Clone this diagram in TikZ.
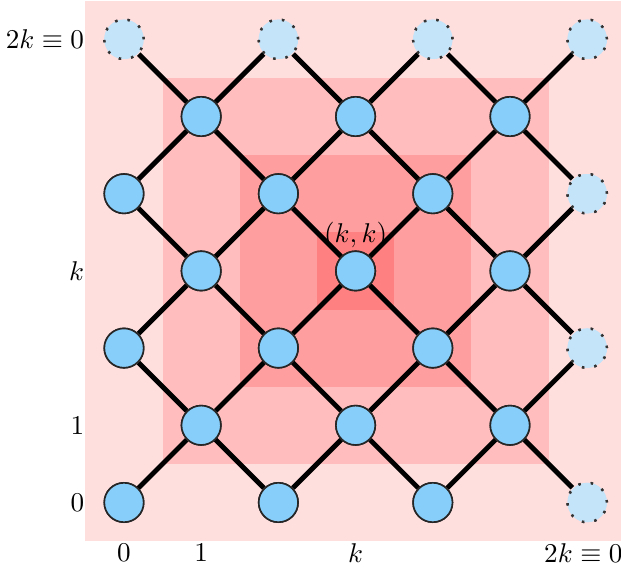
\documentclass[tikz,border=0pt]{standalone}
\usepackage{amssymb}
\definecolor{nodeblue}{RGB}{135,206,250}
\definecolor{ghostblue}{RGB}{196,228,250}
\tikzset{
  vtx/.style={circle,draw=black!85,line width=0.6pt,fill=nodeblue,minimum size=0.51cm,inner sep=0pt},
  ghost/.style={circle,draw=black!80,line width=0.9pt,dash pattern=on 0.9pt off 3.7pt,fill=ghostblue,minimum size=0.51cm,inner sep=0pt},
  edge/.style={line width=1.8pt,black},
  axlab/.style={inner sep=0pt}
}
\begin{document}
\begin{tikzpicture}
\useasboundingbox (-1.606,-0.835) rectangle (6.438,6.509);
% background and nested squares
\fill[red!13] (-0.5,-0.5) rectangle (6.5,6.5);
\fill[red!26] (0.5,0.5) rectangle (5.5,5.5);
\fill[red!38] (1.5,1.5) rectangle (4.5,4.5);
\fill[red!50] (2.5,2.5) rectangle (3.5,3.5);
% nodes (named, used as connector ends)
\foreach \i in {0,...,6}{
  \foreach \j in {0,...,6}{
    \pgfmathtruncatemacro{\s}{mod(\i+\j,2)}
    \ifnum\s=0
      \pgfmathtruncatemacro{\g}{(\i==6)||(\j==6)}
      \ifnum\g=1
        \node[ghost] (n\i-\j) at (\i,\j) {};
      \else
        \node[vtx] (n\i-\j) at (\i,\j) {};
      \fi
    \fi
  }
}
% edges
\foreach \i in {0,...,5}{
  \foreach \j in {0,...,6}{
    \pgfmathtruncatemacro{\s}{mod(\i+\j,2)}
    \pgfmathtruncatemacro{\ii}{\i+1}
    \pgfmathtruncatemacro{\ju}{\j+1}
    \pgfmathtruncatemacro{\jd}{\j-1}
    \ifnum\s=0
      \ifnum\j<6 \draw[edge] (n\i-\j) -- (n\ii-\ju); \fi
      \ifnum\j>0 \draw[edge] (n\i-\j) -- (n\ii-\jd); \fi
    \fi
  }
}
% redraw nodes on top of the edges
\foreach \i in {0,...,6}{
  \foreach \j in {0,...,6}{
    \pgfmathtruncatemacro{\s}{mod(\i+\j,2)}
    \ifnum\s=0
      \pgfmathtruncatemacro{\g}{(\i==6)||(\j==6)}
      \ifnum\g=1
        \node[ghost] (m\i-\j) at (\i,\j) {};
      \else
        \node[vtx] (m\i-\j) at (\i,\j) {};
      \fi
    \fi
  }
}
\node (kk) at (3,3.45) {$(k,k)$};
% axis labels
\node[axlab,anchor=east] (ly6) at (-0.51,6) {$2k\equiv 0$};
\node[axlab,anchor=east] (ly3) at (-0.51,3) {$k$};
\node[axlab,anchor=east] (ly1) at (-0.51,1) {$1$};
\node[axlab,anchor=east] (ly0) at (-0.51,0) {$0$};
\node (lx0) at (0,-0.65) {$0$};
\node (lx1) at (1,-0.65) {$1$};
\node (lx3) at (3,-0.65) {$k$};
\node (lx6) at (5.95,-0.65) {$2k\equiv 0$};
\end{tikzpicture}
\end{document}
